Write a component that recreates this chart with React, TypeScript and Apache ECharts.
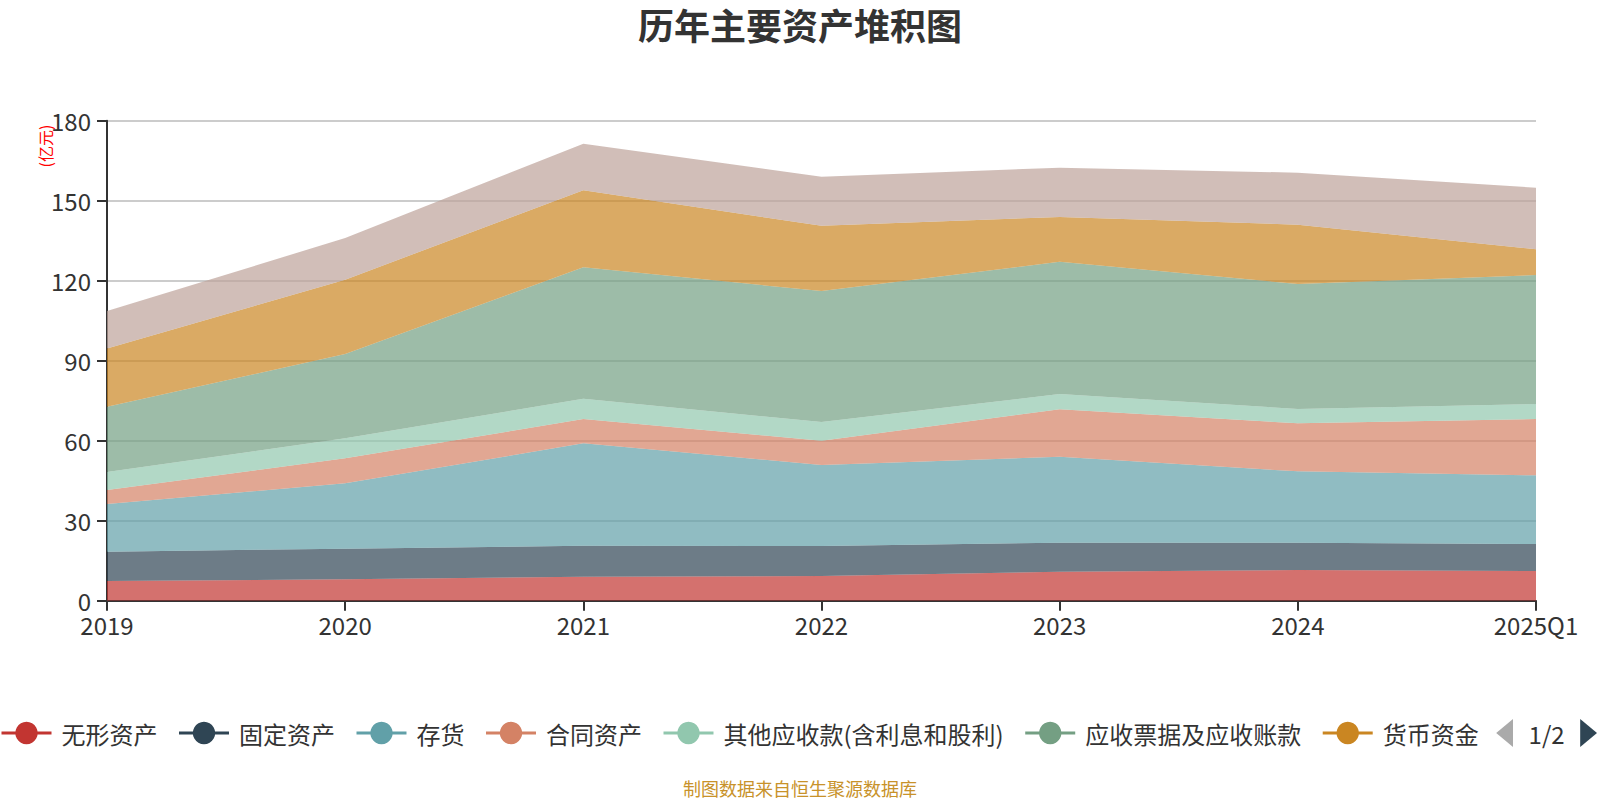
import React, { useEffect, useRef } from "react";
import * as echarts from "echarts";

const categories = ["2019", "2020", "2021", "2022", "2023", "2024", "2025Q1"];
const seriesNames = [
  "无形资产",
  "固定资产",
  "存货",
  "合同资产",
  "其他应收款(含利息和股利)",
  "应收票据及应收账款",
  "货币资金",
  "其他",
];
const intangibleAssets = [7.4, 8.0, 9.0, 9.25, 10.9, 11.5, 11.1];
const fixedAssets = [11.0, 11.5, 11.6, 11.25, 10.85, 10.25, 10.15];
const inventory = [17.85, 24.5, 38.4, 30.4, 32.25, 26.75, 25.75];
const contractAssets = [5.25, 9.4, 9.1, 9.1, 17.75, 18.0, 21.1];
const otherReceivables = [6.75, 7.5, 7.65, 7.0, 5.75, 5.4, 5.65];
const notesAccountsReceivable = [24.5, 31.6, 49.25, 49.1, 49.6, 46.85, 48.35];
const monetaryFunds = [21.85, 27.9, 28.9, 24.5, 16.8, 22.25, 9.65];
const others = [14.0, 15.6, 17.5, 18.4, 18.5, 19.5, 23.15];
const yTicks = { min: 0, max: 180, interval: 30 };

const palette = ["#c23531", "#2f4554", "#61a0a8", "#d48265", "#91c7ae", "#749f83", "#ca8622", "#bda29a"];
const FONT = "'Noto Sans CJK SC', 'Noto Sans', sans-serif";

export default function App() {
  const ref = useRef<HTMLDivElement>(null);
  useEffect(() => {
    document.body.style.margin = "0";
    if (!ref.current) return;
    const chart = echarts.init(ref.current, null, { renderer: "svg" });
    const values = [
      intangibleAssets,
      fixedAssets,
      inventory,
      contractAssets,
      otherReceivables,
      notesAccountsReceivable,
      monetaryFunds,
      others,
    ];
    chart.setOption({
      animation: false,
      color: palette,
      textStyle: { fontFamily: FONT },
      title: [
        {
          text: "历年主要资产堆积图",
          left: "center",
          top: 1,
          textStyle: { fontSize: 36, fontWeight: "bold", color: "#333", fontFamily: FONT },
        },
        {
          text: "制图数据来自恒生聚源数据库",
          left: "center",
          top: 779,
          padding: 0,
          textStyle: { fontSize: 18, fontWeight: "normal", color: "#c8922a", fontFamily: FONT },
        },
      ],
      legend: {
        type: "scroll",
        left: 0,
        top: 719,
        width: 1597,
        padding: 0,
        itemWidth: 50,
        itemHeight: 28,
        itemGap: 20,
        lineStyle: { width: 3, opacity: 1 },
        textStyle: { fontSize: 24, color: "#333", fontFamily: FONT, padding: [0, 0, 0, 5] },
        pageIconSize: 28,
        pageIconColor: "#2f4554",
        pageIconInactiveColor: "#aaa",
        pageButtonItemGap: 5,
        pageButtonGap: 10,
        pageTextStyle: { fontSize: 24, color: "#333", fontFamily: FONT },
        data: seriesNames,
      },
      grid: { left: 107, right: 64, top: 120.7, bottom: 199.3, containLabel: false },
      graphic: [
        {
          type: "text",
          x: 45,
          y: 146,
          rotation: Math.PI / 2,
          style: {
            text: "(亿元)",
            fill: "#ff0000",
            fontSize: 16,
            fontFamily: FONT,
            textAlign: "center",
            textVerticalAlign: "middle",
          },
        },
      ],
      xAxis: {
        type: "category",
        boundaryGap: false,
        data: categories,
        axisLine: { show: true, lineStyle: { color: "#333", width: 2 } },
        axisTick: { show: true, length: 10, lineStyle: { color: "#333", width: 2 } },
        axisLabel: { fontSize: 24, color: "#333", margin: 12, fontFamily: FONT },
        splitLine: { show: false },
      },
      yAxis: {
        type: "value",
        min: yTicks.min,
        max: yTicks.max,
        interval: yTicks.interval,
        axisLine: { show: true, lineStyle: { color: "#333", width: 2 } },
        axisTick: { show: true, length: 10, lineStyle: { color: "#333", width: 2 } },
        axisLabel: { fontSize: 24, color: "#333", margin: 16, fontFamily: FONT },
        splitLine: { show: true, lineStyle: { color: "#ccc", width: 2 } },
      },
      series: seriesNames.map((name, i) => ({
        name,
        type: "line",
        stack: "total",
        data: values[i],
        symbol: "circle",
        showSymbol: false,
        lineStyle: { width: 0 },
        areaStyle: { opacity: 0.7 },
        itemStyle: { color: palette[i] },
      })),
    });
    return () => chart.dispose();
  }, []);
  return <div ref={ref} style={{ width: 1600, height: 800 }} />;
}
